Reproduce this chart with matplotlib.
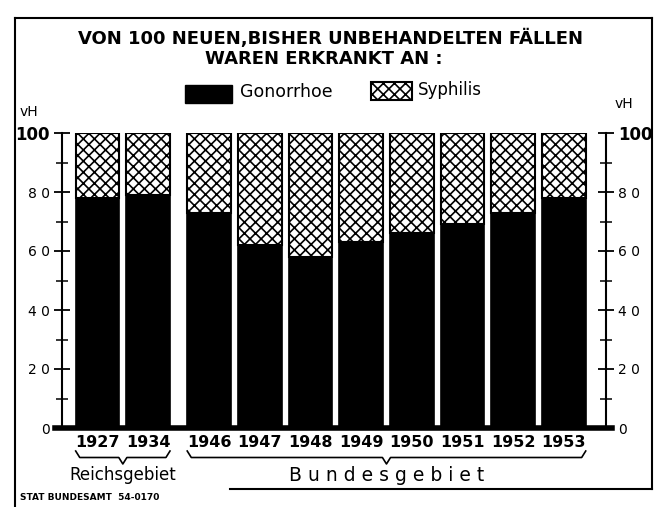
import matplotlib.pyplot as plt
from matplotlib.patches import Rectangle
from matplotlib.lines import Line2D

plt.rcParams['font.family'] = ['DejaVu Sans']
plt.rcParams['hatch.linewidth'] = 1.2

years = ['1927', '1934', '1946', '1947', '1948', '1949', '1950', '1951', '1952', '1953']
gonorrhoe = [78, 79, 73, 62, 58, 63, 66, 69, 73, 78]
syphilis = [100 - g for g in gonorrhoe]
region_labels = ['Reichsgebiet', 'B u n d e s g e b i e t']
region_sizes = [2, 8]

W, H = 661, 507
fig = plt.figure(figsize=(W / 100, H / 100), dpi=100)


def fx(px):
    return px / W


def fy(py):
    return 1 - py / H


# bar positions: wider gap between the two regions
xs = []
for i in range(len(years)):
    xs.append(i if i < region_sizes[0] else i + 0.2)
width = 0.86

ax = fig.add_axes([fx(62), fy(428), fx(606) - fx(62), fy(133) - fy(428)])
ax.bar(xs, gonorrhoe, width, color='black', edgecolor='black', lw=1.2)
ax.bar(xs, syphilis, width, bottom=gonorrhoe, color='white', edgecolor='black',
       hatch='xxx', lw=1.5)

ax.set_xlim(-0.7, xs[-1] + 0.83)
ax.set_ylim(0, 100)
for s in ['top', 'bottom']:
    ax.spines[s].set_visible(False)
ax.spines['left'].set_linewidth(1.5)
ax.spines['right'].set_linewidth(1.5)
ax.axhline(0, xmin=-0.013, xmax=1.011, color='black', lw=4, clip_on=False)

ax.set_yticks([0, 20, 40, 60, 80, 100])
ax.set_yticklabels(['0', '2 0', '4 0', '6 0', '8 0', '100'])
ax.set_yticks([10, 30, 50, 70, 90], minor=True)
ax.tick_params(axis='y', which='major', direction='inout', length=12, width=1.3,
               labelsize=10, pad=3, right=True, labelright=True)
ax.tick_params(axis='y', which='minor', direction='inout', length=8, width=1.1,
               right=True)
top = ax.yaxis.get_major_ticks()[-1]
for lab in (top.label1, top.label2):
    lab.set_fontweight('bold')
    lab.set_fontsize(12)

ax.set_xticks(xs)
ax.set_xticklabels(years, fontsize=11.5, fontweight='bold')
ax.tick_params(axis='x', length=0, pad=5)

# braces under the year labels
trans = ax.get_xaxis_transform()
start = 0
for lab, n in zip(region_labels, region_sizes):
    x0 = xs[start] - width / 2
    x1 = xs[start + n - 1] + width / 2
    xc = (x0 + x1) / 2
    d = 0.08
    bx = [x0, x0 + d, xc - d, xc, xc + d, x1 - d, x1]
    by = [-0.078, -0.1, -0.1, -0.122, -0.1, -0.1, -0.078]
    ax.add_line(Line2D(bx, by, transform=trans, color='black', lw=1.2, clip_on=False))
    size = 12 if n == 2 else 13.5
    ax.text(xc, -0.16, lab, transform=trans, ha='center', va='center', fontsize=size)
    start += n

# title
fig.text(fx(330), fy(38), 'VON 100 NEUEN,BISHER UNBEHANDELTEN FÄLLEN',
         ha='center', va='center', fontsize=13, fontweight='bold')
fig.text(fx(324), fy(59), 'WAREN ERKRANKT AN :',
         ha='center', va='center', fontsize=13, fontweight='bold')

# legend
fig.add_artist(Rectangle((fx(185), fy(103)), fx(232) - fx(185), fy(85) - fy(103),
                         transform=fig.transFigure, facecolor='black', edgecolor='black'))
fig.text(fx(240), fy(92), 'Gonorrhoe', ha='left', va='center', fontsize=12.5)
fig.add_artist(Rectangle((fx(371), fy(100)), fx(412) - fx(371), fy(82) - fy(100),
                         transform=fig.transFigure, facecolor='white', edgecolor='black',
                         hatch='xxx', lw=1.5))
fig.text(fx(418), fy(90), 'Syphilis', ha='left', va='center', fontsize=12)

fig.text(fx(20), fy(112), 'vH', ha='left', va='center', fontsize=10)
fig.text(fx(615), fy(104), 'vH', ha='left', va='center', fontsize=10)

# frame
for (xa, ya, xb, yb) in [(15, 18, 652, 18), (15, 18, 15, 507), (652, 18, 652, 489),
                         (230, 489, 652, 489)]:
    fig.add_artist(Line2D([fx(xa), fx(xb)], [fy(ya), fy(yb)], transform=fig.transFigure,
                          color='black', lw=1.5))

fig.text(fx(20), fy(497), 'STAT BUNDESAMT  54-0170', ha='left', va='center',
         fontsize=6.5, fontweight='bold')

fig.savefig('out.png', dpi=100)
